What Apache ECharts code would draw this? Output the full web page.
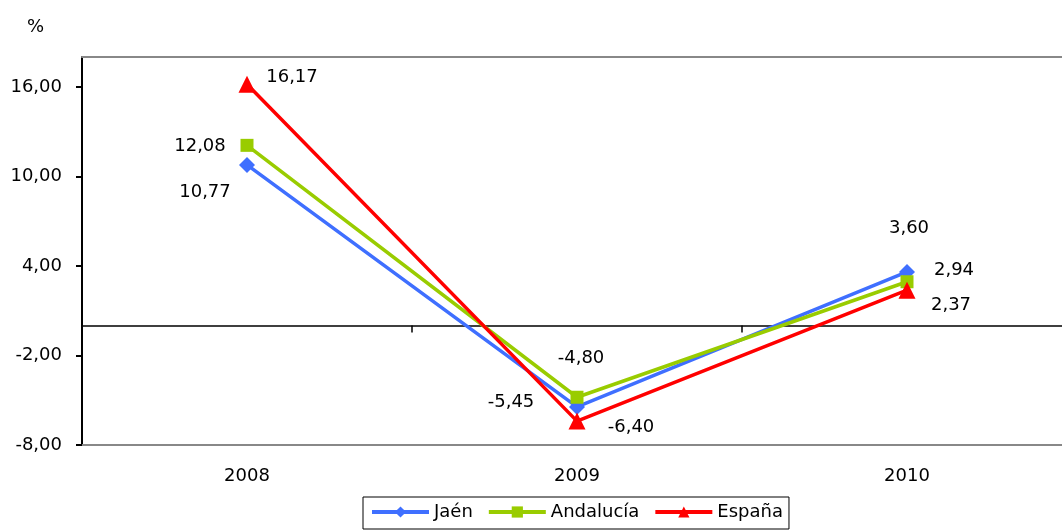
<!DOCTYPE html>
<html>
<head>
<meta charset="utf-8">
<script src="https://cdn.jsdelivr.net/npm/echarts@6/dist/echarts.min.js"></script>
<style>html,body{margin:0;padding:0;background:#fff;overflow:hidden;width:1062px;height:531px}#c{width:1090px;height:531px}</style>
</head>
<body>
<div id="c"></div>
<script>
var categories = ['2008', '2009', '2010'];
var seriesNames = ['Jaén', 'Andalucía', 'España'];
var jaen = [10.77, -5.45, 3.60];
var andalucia = [12.08, -4.80, 2.94];
var espana = [16.17, -6.40, 2.37];
var yTicks = [-8, -2, 4, 10, 16];

var FONT = 'DejaVu Sans';
var colors = ['#3F6FFF', '#99CC00', '#FF0000'];
var symbols = ['diamond', 'rect', 'triangle'];
var symbolSizes = [16, 13, 17];
var labelOffsets = [
  [[-42, 27], [-66, -5], [2, -44]],
  [[-47, 1], [4, -39], [47, -11]],
  [[45, -7], [54, 6], [44, 15]]
];
var values = [jaen, andalucia, espana];

function fmt(v) { return Number(v).toFixed(2).replace('.', ','); }

var series = values.map(function (arr, i) {
  return {
    name: seriesNames[i],
    type: 'line',
    xAxisIndex: 0,
    data: arr.map(function (v, j) {
      return { value: v, label: { offset: labelOffsets[i][j] } };
    }),
    symbol: symbols[i],
    symbolSize: symbolSizes[i],
    lineStyle: { color: colors[i], width: 3.5 },
    itemStyle: { color: colors[i] },
    label: {
      show: true, position: 'inside', color: '#000', fontFamily: FONT, fontSize: 18,
      align: 'center', verticalAlign: 'middle',
      formatter: function (p) { return fmt(p.value); }
    },
    emphasis: { disabled: true },
    animation: false
  };
});

var chart = echarts.init(document.getElementById('c'));
chart.setOption({
  animation: false,
  title: { text: '%', left: 22, top: 13, textStyle: { fontFamily: FONT, fontSize: 18, fontWeight: 'normal', color: '#000' } },
  grid: { left: 82, right: 18, top: 57, bottom: 86, show: false },
  legend: {
    data: seriesNames, top: 497, left: 363,
    borderColor: '#000', borderWidth: 1, padding: [6, 6, 8, 7],
    itemWidth: 57, itemHeight: 14, itemGap: 14,
    lineStyle: { width: 4 },
    textStyle: { fontFamily: FONT, fontSize: 18, color: '#000' }
  },
  xAxis: [
    {
      type: 'category', data: categories, boundaryGap: true, position: 'bottom',
      axisLine: { onZero: true, lineStyle: { color: '#000', width: 1.5 } },
      axisTick: { show: true, length: 7, lineStyle: { color: '#000', width: 1.5 } },
      axisLabel: { show: false }, splitLine: { show: false }, z: 3
    },
    {
      type: 'category', data: categories, boundaryGap: true, position: 'bottom',
      axisLine: { show: true, onZero: false, lineStyle: { color: '#888', width: 2 } }, axisTick: { show: false },
      axisLabel: { show: true, margin: 22, fontFamily: FONT, fontSize: 18, color: '#000' },
      splitLine: { show: false }
    },
    {
      type: 'category', data: categories, boundaryGap: true, position: 'top',
      axisLine: { show: true, onZero: false, lineStyle: { color: '#888', width: 2 } }, axisTick: { show: false },
      axisLabel: { show: false }, splitLine: { show: false }
    }
  ],
  yAxis: {
    type: 'value', min: -8, max: 18, interval: 6,
    axisLine: { show: true, onZero: false, lineStyle: { color: '#000', width: 2 } },
    axisTick: { show: true, length: 6, customValues: yTicks, lineStyle: { color: '#000', width: 2 } },
    axisLabel: {
      customValues: yTicks, margin: 20, fontFamily: FONT, fontSize: 18, color: '#000',
      formatter: function (v) { return yTicks.indexOf(v) >= 0 ? fmt(v) : ''; }
    },
    splitLine: { show: false }
  },
  series: series
});
</script>
</body>
</html>
